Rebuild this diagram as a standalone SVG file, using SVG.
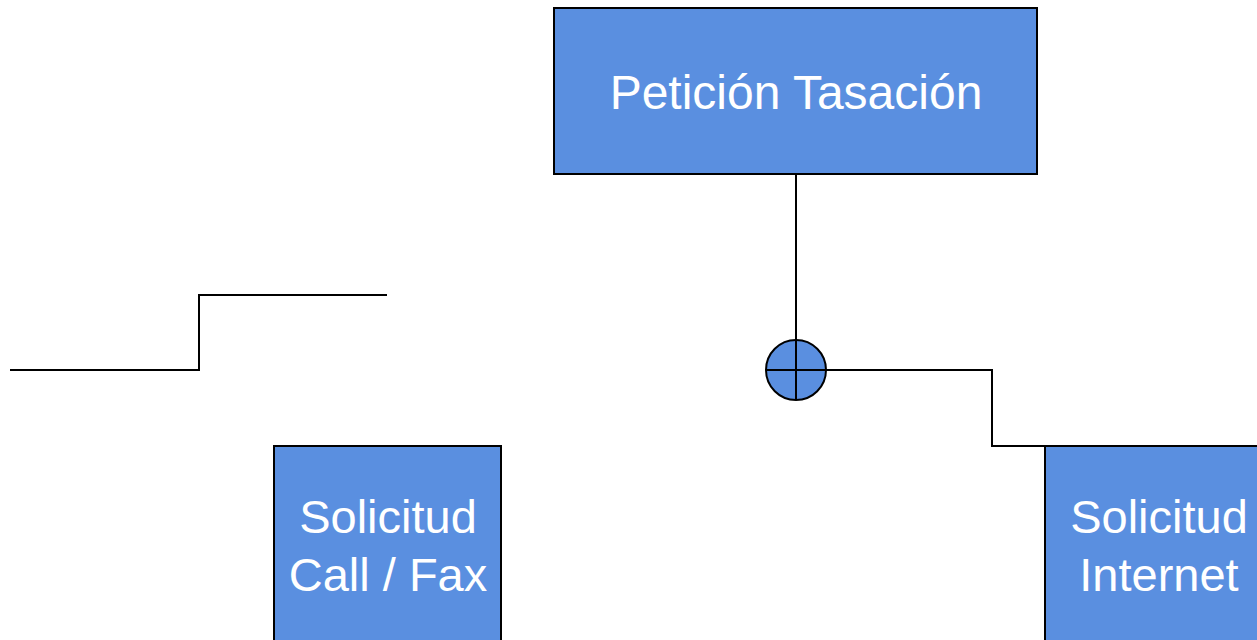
<svg xmlns="http://www.w3.org/2000/svg" width="1257" height="640" viewBox="0 0 1257 640">
<style>
.box{fill:#5A8FE0;stroke:#000;stroke-width:2}
.lbl{font-family:"Liberation Sans",Arial,sans-serif;font-size:47px;fill:#fff;text-anchor:middle}
.conn{fill:none;stroke:#000;stroke-width:2}
</style>
<rect width="1257" height="640" fill="#fff"/>
<g id="connectors">
<polyline class="conn" points="10,370 199,370 199,295 387,295"/>
<line class="conn" x1="796" y1="174" x2="796" y2="340"/>
<polyline class="conn" points="826,370 992,370 992,446 1257,446"/>
</g>
<g id="node-peticion">
<rect class="box" x="554" y="8" width="483" height="166"/>
<text class="lbl" x="796" y="109" style="font-size:48px">Petición Tasación</text>
</g>
<g id="node-or">
<circle cx="796" cy="370" r="30" fill="#5A8FE0" stroke="#000" stroke-width="2"/>
<line x1="796" y1="340" x2="796" y2="400" stroke="#000" stroke-width="2"/>
<line x1="766" y1="370" x2="826" y2="370" stroke="#000" stroke-width="2"/>
</g>
<g id="node-callfax">
<rect class="box" x="274" y="446" width="227" height="210"/>
<text class="lbl" x="388" y="533">Solicitud</text>
<text class="lbl" x="388" y="591">Call / Fax</text>
</g>
<g id="node-internet">
<rect class="box" x="1045" y="446" width="227" height="210"/>
<text class="lbl" x="1159" y="533">Solicitud</text>
<text class="lbl" x="1159" y="591">Internet</text>
</g>
</svg>
